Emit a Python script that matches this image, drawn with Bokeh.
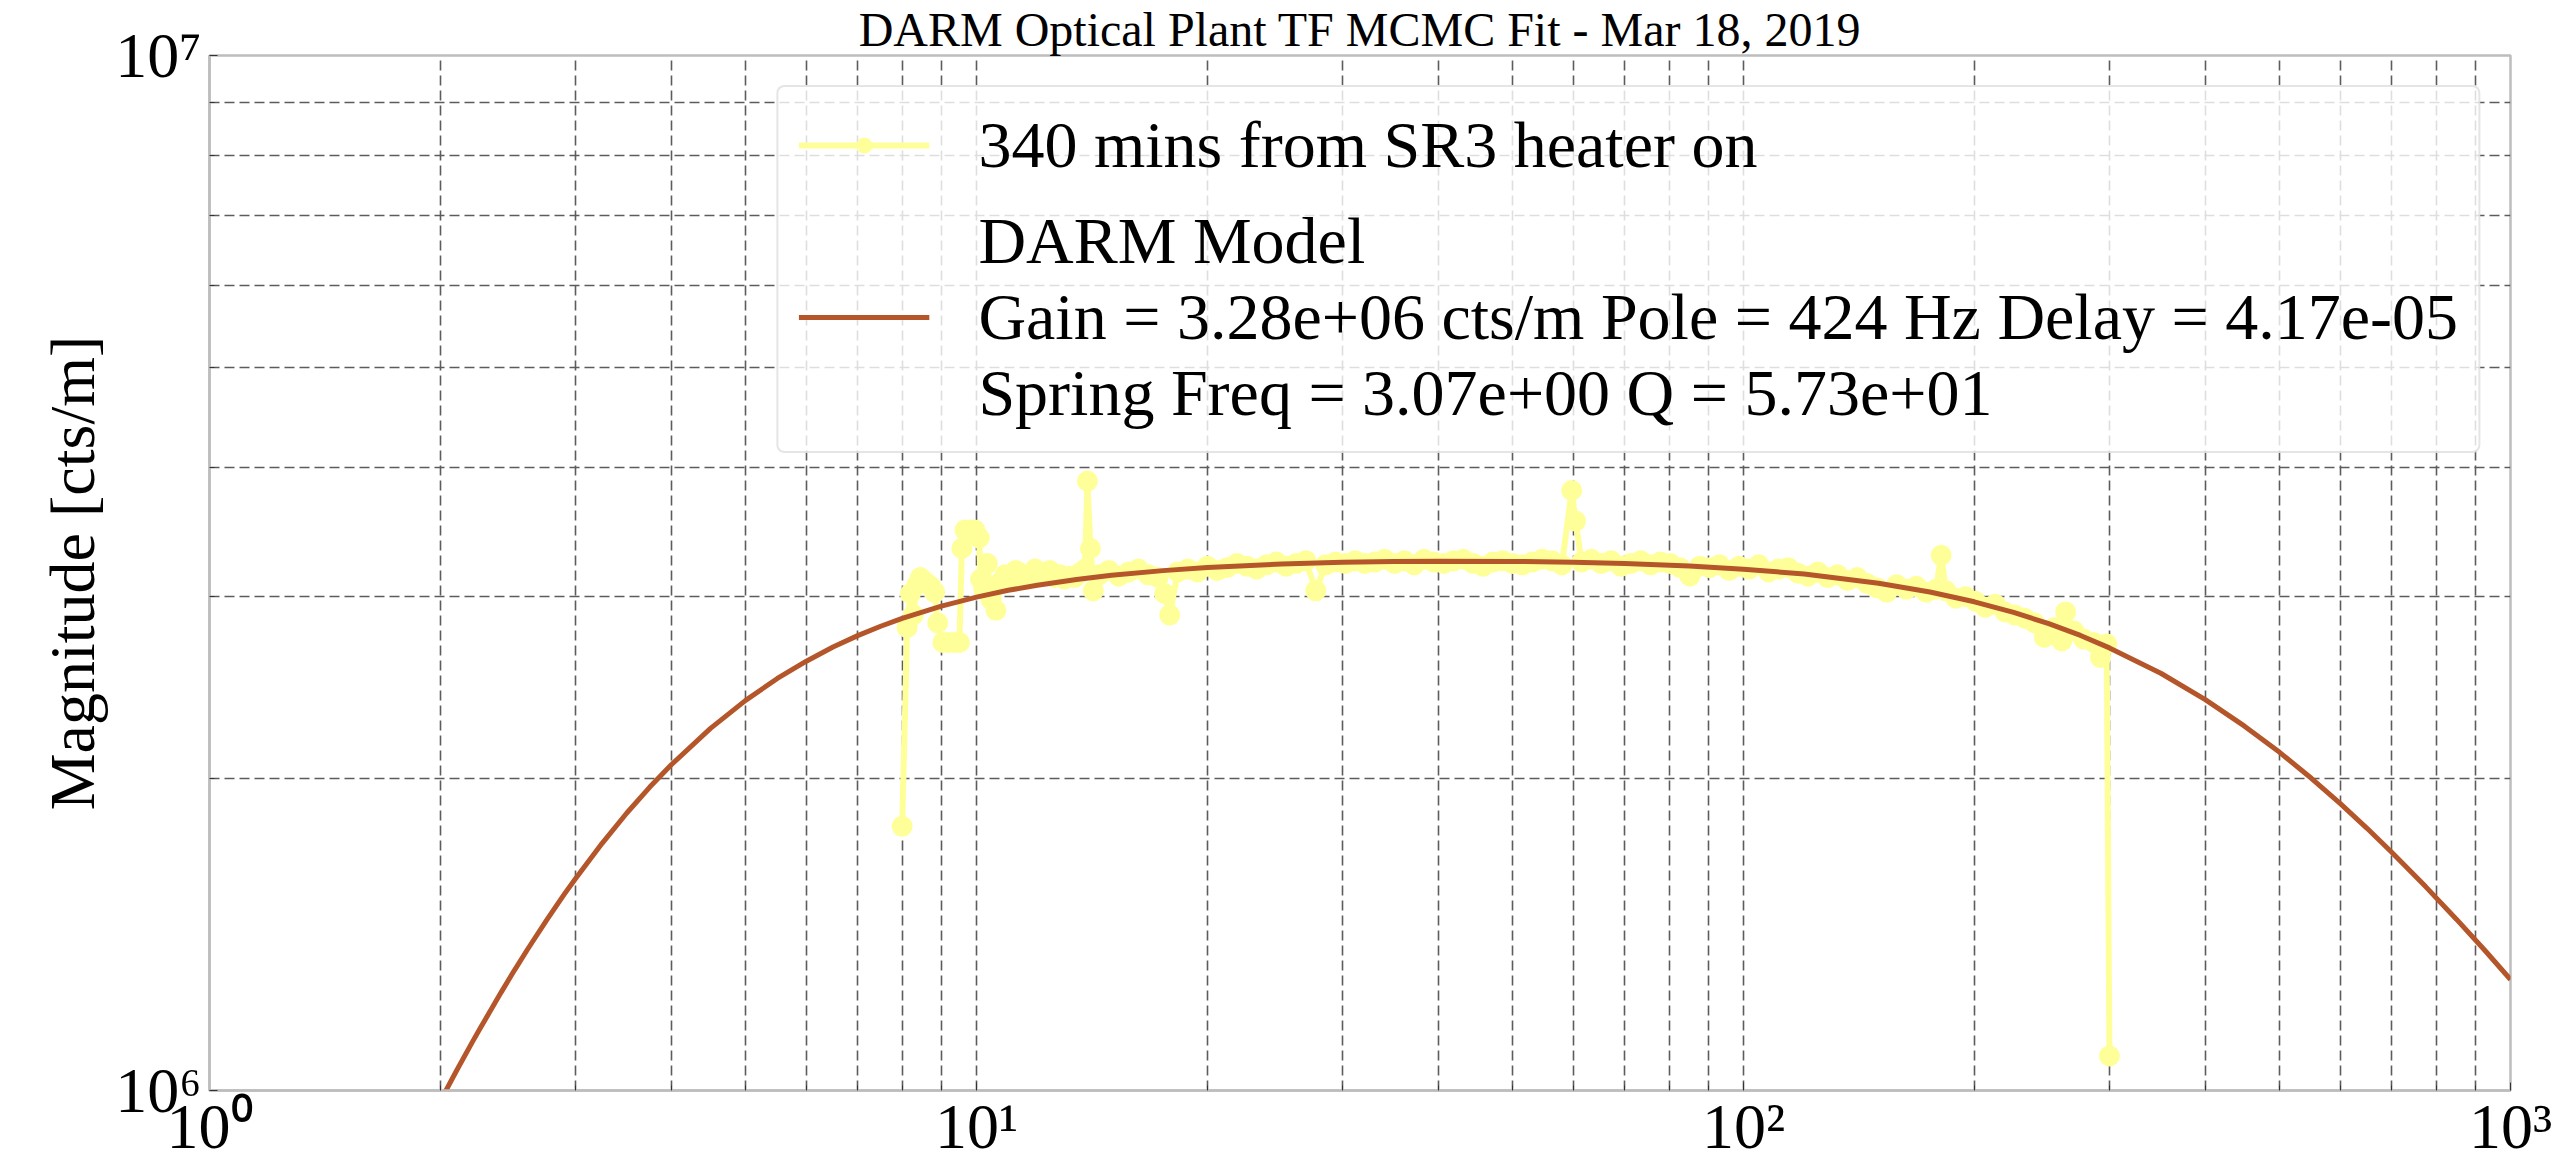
from bokeh.plotting import figure
from bokeh.models import Range1d, FixedTicker, Legend, LegendItem
from bokeh.embed import file_html
from bokeh.resources import INLINE

# ---------------- data ----------------
TITLE = "DARM Optical Plant TF MCMC Fit - Mar 18, 2019"
Y_LABEL = "Magnitude [cts/m]"
DATA_LABEL = "340 mins from SR3 heater on"
MODEL_LABEL = ("DARM Model\n"
               "Gain = 3.28e+06 cts/m Pole = 424 Hz Delay = 4.17e-05\n"
               "Spring Freq = 3.07e+00 Q = 5.73e+01")

meas_freq = [
    8.00, 8.12, 8.20, 8.27, 8.36, 8.45, 8.58, 8.72, 8.82, 8.90,
    9.04, 9.20, 9.36, 9.50, 9.57, 9.66, 9.80, 9.95, 10.08, 10.12,
    10.22, 10.33, 10.45, 10.60, 10.75, 10.90, 11.07, 11.25, 11.40, 11.58,
    11.75, 11.92, 12.10, 12.28, 12.46, 12.65, 12.84, 13.02, 13.22, 13.42,
    13.62, 13.85, 13.95, 14.08, 14.20, 14.45, 14.88, 15.33, 15.79, 16.26,
    16.75, 17.25, 17.60, 17.86, 18.30, 18.85, 19.42, 20.00, 20.60, 21.22,
    21.86, 22.51, 23.19, 23.88, 24.60, 25.34, 26.10, 26.88, 27.69, 28.52,
    29.37, 30.25, 31.16, 32.10, 33.06, 34.05, 35.07, 36.12, 37.21, 38.32,
    39.47, 40.66, 41.88, 43.13, 44.43, 45.76, 47.13, 48.55, 50.00, 51.50,
    53.05, 54.64, 56.28, 57.97, 59.71, 60.40, 61.50, 63.34, 65.24, 67.20,
    69.22, 71.29, 73.43, 75.64, 77.91, 80.24, 82.65, 85.13, 87.68, 90.31,
    93.02, 95.81, 98.69, 101.65, 104.70, 107.84, 111.07, 114.40, 117.84, 121.37,
    125.01, 128.76, 132.63, 136.61, 140.70, 144.92, 149.27, 153.75, 158.36, 163.11,
    168.01, 173.05, 178.24, 181.00, 183.59, 189.09, 194.77, 200.61, 206.63, 212.83,
    219.21, 225.79, 232.56, 239.54, 246.73, 254.13, 260.00, 263.00, 269.60, 277.69,
    286.02, 292.00, 297.50, 300.00,
]
meas_mag = [
    1.80e6, 2.80e6, 3.02e6, 2.88e6, 3.08e6, 3.13e6, 3.10e6, 3.07e6, 3.03e6, 2.83e6,
    2.71e6, 2.71e6, 2.71e6, 2.71e6, 3.34e6, 3.48e6, 3.48e6, 3.48e6, 3.42e6, 3.12e6,
    3.05e6, 3.23e6, 2.98e6, 2.91e6, 3.10e6, 3.15e6, 3.13e6, 3.18e6, 3.16e6, 3.12e6,
    3.14e6, 3.19e6, 3.17e6, 3.15e6, 3.18e6, 3.13e6, 3.15e6, 3.12e6, 3.14e6, 3.13e6,
    3.16e6, 3.19e6, 3.88e6, 3.34e6, 3.04e6, 3.15e6, 3.18e6, 3.14e6, 3.17e6, 3.19e6,
    3.15e6, 3.13e6, 3.02e6, 2.88e6, 3.17e6, 3.19e6, 3.17e6, 3.21e6, 3.18e6, 3.20e6,
    3.23e6, 3.21e6, 3.19e6, 3.22e6, 3.24e6, 3.21e6, 3.23e6, 3.25e6, 3.04e6, 3.22e6,
    3.24e6, 3.23e6, 3.25e6, 3.23e6, 3.24e6, 3.26e6, 3.23e6, 3.25e6, 3.22e6, 3.26e6,
    3.24e6, 3.23e6, 3.25e6, 3.26e6, 3.23e6, 3.21e6, 3.24e6, 3.25e6, 3.23e6, 3.22e6,
    3.24e6, 3.26e6, 3.25e6, 3.22e6, 3.80e6, 3.55e6, 3.24e6, 3.26e6, 3.23e6, 3.25e6,
    3.21e6, 3.23e6, 3.25e6, 3.22e6, 3.24e6, 3.23e6, 3.20e6, 3.14e6, 3.21e6, 3.20e6,
    3.22e6, 3.18e6, 3.21e6, 3.19e6, 3.22e6, 3.17e6, 3.19e6, 3.20e6, 3.16e6, 3.14e6,
    3.17e6, 3.13e6, 3.15e6, 3.11e6, 3.13e6, 3.09e6, 3.06e6, 3.03e6, 3.08e6, 3.05e6,
    3.07e6, 3.03e6, 3.05e6, 3.29e6, 3.04e6, 2.99e6, 3.00e6, 2.97e6, 2.93e6, 2.95e6,
    2.90e6, 2.88e6, 2.86e6, 2.83e6, 2.74e6, 2.80e6, 2.72e6, 2.90e6, 2.78e6, 2.73e6,
    2.71e6, 2.62e6, 2.70e6, 1.08e6,
]

model_freq = [1.9, 1.95, 2.0, 2.1, 2.2, 2.25, 2.4, 2.5, 2.6, 2.75, 2.9, 3.0, 3.25,
              3.5, 3.75, 4.0, 4.5, 5.0, 5.5, 6.0, 6.5, 7.0, 7.5, 8.0, 9.0, 10.0,
              11.0, 12.0, 13.5, 15.0, 17.5, 20.0, 25.0, 30.0, 35.0, 40.0, 50.0,
              60.0, 70.0, 85.0, 100.0, 120.0, 150.0, 175.0, 200.0, 225.0, 250.0,
              275.0, 300.0, 350.0, 400.0, 450.0, 500.0, 550.0, 600.0, 650.0,
              700.0, 775.0, 850.0, 925.0, 1000.0]
model_mag = [0.908e6, 0.943e6, 0.977e6, 1.0455e6, 1.113e6, 1.146e6, 1.244e6,
             1.308e6, 1.370e6, 1.460e6, 1.547e6, 1.602e6, 1.733e6, 1.854e6,
             1.964e6, 2.064e6, 2.238e6, 2.382e6, 2.501e6, 2.599e6, 2.682e6,
             2.751e6, 2.809e6, 2.859e6, 2.938e6, 2.997e6, 3.043e6, 3.077e6,
             3.117e6, 3.146e6, 3.179e6, 3.201e6, 3.226e6, 3.238e6, 3.244e6,
             3.246e6, 3.245e6, 3.239e6, 3.230e6, 3.212e6, 3.189e6, 3.155e6,
             3.091e6, 3.031e6, 2.966e6, 2.897e6, 2.825e6, 2.752e6, 2.677e6,
             2.530e6, 2.386e6, 2.249e6, 2.122e6, 2.003e6, 1.893e6, 1.792e6,
             1.699e6, 1.574e6, 1.464e6, 1.367e6, 1.280e6]

x_major_ticks = [1, 10, 100, 1000]
x_tick_labels = ["10\u2070", "10\u00b9", "10\u00b2", "10\u00b3"]
x_minor_ticks = [2, 3, 4, 5, 6, 7, 8, 9, 20, 30, 40, 50, 60, 70, 80, 90,
                 200, 300, 400, 500, 600, 700, 800, 900]
y_major_ticks = [1000000, 10000000]
y_tick_labels = ["10\u2076", "10\u2077"]
y_minor_ticks = [2e6, 3e6, 4e6, 5e6, 6e6, 7e6, 8e6, 9e6]

# ---------------- styling ----------------
FONT = "Liberation Serif"
YELLOW = "#ffff99"
BROWN = "#b4562a"
GRID = "#5c5c5c"
FRAME = "#bdbdbd"

p = figure(width=2560, height=1164, x_axis_type="log", y_axis_type="log",
           x_range=Range1d(1, 1000), y_range=Range1d(1e6, 1e7),
           output_backend="svg", toolbar_location=None,
           min_border_left=209, min_border_right=50, min_border_top=0,
           min_border_bottom=40)
p.background_fill_color = "white"
p.border_fill_color = "white"
p.outline_line_color = FRAME
p.outline_line_width = 2.5

p.title.text = TITLE
p.title.align = "center"
p.title.text_font = FONT
p.title.text_font_size = "48px"
p.title.text_font_style = "normal"
p.title.text_color = "black"
p.title.standoff = 0

p.xaxis.ticker = FixedTicker(ticks=x_major_ticks, minor_ticks=x_minor_ticks)
p.yaxis.ticker = FixedTicker(ticks=y_major_ticks, minor_ticks=y_minor_ticks)
p.xaxis.major_label_overrides = dict(zip(x_major_ticks, x_tick_labels))
p.yaxis.major_label_overrides = dict(zip(y_major_ticks, y_tick_labels))

for ax in (p.xaxis, p.yaxis):
    ax.axis_line_color = FRAME
    ax.axis_line_width = 2.5
    ax.major_tick_in = 8
    ax.major_tick_out = 0
    ax.minor_tick_in = 5
    ax.minor_tick_out = 0
    ax.major_tick_line_color = "#333333"
    ax.minor_tick_line_color = "#333333"
    ax.major_label_text_font = FONT
    ax.major_label_text_font_size = "64px"
    ax.major_label_text_color = "black"
    ax.axis_label_text_font = FONT
    ax.axis_label_text_font_size = "64px"
    ax.axis_label_text_font_style = "normal"
    ax.axis_label_text_color = "black"

p.xaxis.major_label_standoff = 0
p.yaxis.major_label_standoff = 8
p.yaxis.axis_label = Y_LABEL
p.yaxis.axis_label_standoff = 4

for g in (p.xgrid, p.ygrid):
    g.grid_line_color = GRID
    g.grid_line_width = 1.6
    g.grid_line_dash = "10 5"
    g.minor_grid_line_color = GRID
    g.minor_grid_line_width = 1.6
    g.minor_grid_line_dash = "10 5"

# ---------------- glyphs ----------------
r_line = p.line(meas_freq, meas_mag, line_color=YELLOW, line_width=6)
r_pts = p.scatter(meas_freq, meas_mag, marker="circle", size=21,
                  fill_color=YELLOW, line_color=None)
r_model = p.line(model_freq, model_mag, line_color=BROWN, line_width=5)

legend = Legend(items=[LegendItem(label=DATA_LABEL, renderers=[r_line, r_pts]),
                       LegendItem(label=MODEL_LABEL, renderers=[r_model])],
                location="top_right")
legend.label_text_font = FONT
legend.label_text_font_size = "66px"
legend.label_text_color = "black"
legend.label_text_line_height = 0.92
legend.glyph_width = 131
legend.glyph_height = 40
legend.label_standoff = 49
legend.padding = 20
legend.spacing = 20
legend.margin = 30
legend.background_fill_color = "white"
legend.background_fill_alpha = 0.8
legend.border_line_color = "#cccccc"
legend.border_line_width = 2
if "border_radius" in legend.properties():
    legend.border_radius = 8
p.add_layout(legend)

open("out.html", "w").write(file_html(p, INLINE))
